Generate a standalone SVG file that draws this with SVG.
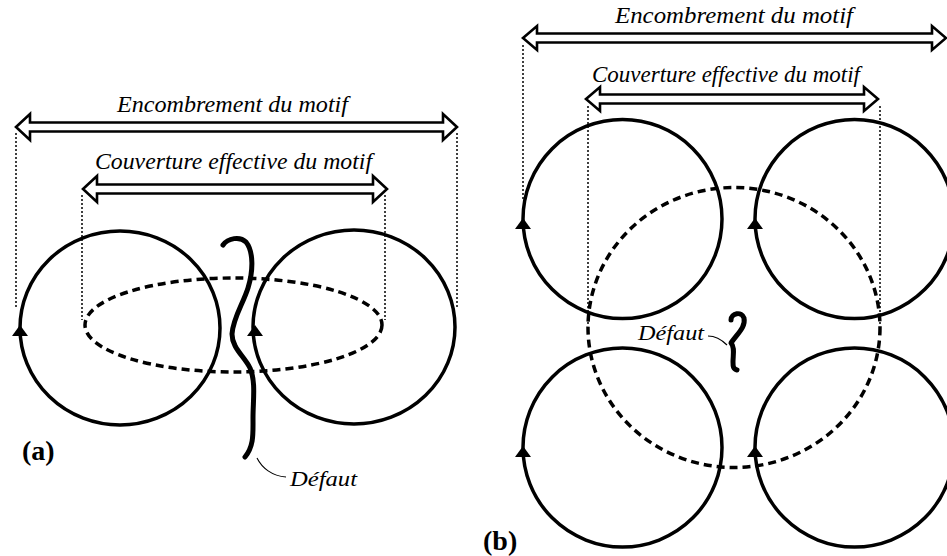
<svg xmlns="http://www.w3.org/2000/svg" width="947" height="556" viewBox="0 0 947 556">
<style>
.ring{fill:none;stroke:#000;stroke-width:3.5}
.dash{fill:none;stroke:#000;stroke-width:3.5;stroke-dasharray:8 5}
.dot{fill:none;stroke:#000;stroke-width:1.5;stroke-dasharray:2 2}
.arr{fill:#fff;stroke:#000;stroke-width:2.6;stroke-linejoin:miter}
.def{fill:none;stroke:#000;stroke-width:5;stroke-linecap:round;stroke-linejoin:round}
.lead{fill:none;stroke:#000;stroke-width:1.1}
.lbl{font-family:"Liberation Serif","DejaVu Serif",serif;font-style:italic;fill:#000}
.tag{font-family:"Liberation Serif","DejaVu Serif",serif;font-weight:bold;fill:#000;font-size:28px}
</style>
<defs>
<path id="tri" d="M-8,4 L0,-7 L8,4 Z" fill="#000"/>
</defs>
<rect width="947" height="556" fill="#fff"/>

<g id="panel-a">
  <g id="a-circle-left">
    <ellipse class="ring" cx="120" cy="328" rx="100" ry="97"/>
    <use href="#tri" x="20" y="332"/>
  </g>
  <g id="a-circle-right">
    <ellipse class="ring" cx="354" cy="327" rx="101" ry="97"/>
    <use href="#tri" x="255" y="332"/>
  </g>
  <g id="a-coverage">
    <ellipse class="dash" cx="233.5" cy="325" rx="148.5" ry="47"/>
  </g>
  <g id="a-defect">
    <path class="def" d="M223,245 C228,238 240,236 246,242 C254,252 253,272 248,288 C243,304 233,318 232,334 C232,348 244,356 250,368 C256,382 253,400 253,418 C253,434 254,446 245,457"/>
  </g>
  <g id="a-connectors">
    <line class="dot" x1="16" y1="133" x2="16" y2="308"/>
    <line class="dot" x1="457" y1="133" x2="457" y2="308"/>
    <line class="dot" x1="82" y1="195" x2="82" y2="320"/>
    <line class="dot" x1="385" y1="195" x2="385" y2="320"/>
    <path class="arr" d="M16,127 L30,114 L30,122.5 L443,122.5 L443,114 L457,127 L443,140 L443,131.5 L30,131.5 L30,140 Z"/>
    <path class="arr" d="M83,189 L97,176 L97,184.5 L373,184.5 L373,176 L387,189 L373,202 L373,193.5 L97,193.5 L97,202 Z"/>
    <path class="lead" d="M257,458 C262,468 272,476 286,477"/>
  </g>
  <text class="lbl" x="117" y="112" font-size="24" textLength="231" lengthAdjust="spacingAndGlyphs">Encombrement du motif</text>
  <text class="lbl" x="95" y="169" font-size="24" textLength="277" lengthAdjust="spacingAndGlyphs">Couverture effective du motif</text>
  <text class="lbl" x="290" y="486" font-size="21" textLength="67" lengthAdjust="spacingAndGlyphs">Défaut</text>
  <text class="tag" x="22" y="460">(a)</text>
</g>

<g id="panel-b">
  <g id="b-circle-tl">
    <circle class="ring" cx="622.5" cy="219" r="99.5"/>
    <use href="#tri" x="523" y="225"/>
  </g>
  <g id="b-circle-tr">
    <circle class="ring" cx="854.5" cy="219" r="99.5"/>
    <use href="#tri" x="755" y="225"/>
  </g>
  <g id="b-circle-bl">
    <circle class="ring" cx="622.5" cy="447.5" r="99.5"/>
    <use href="#tri" x="523" y="453"/>
  </g>
  <g id="b-circle-br">
    <circle class="ring" cx="854.5" cy="447.5" r="99.5"/>
    <use href="#tri" x="755" y="453"/>
  </g>
  <g id="b-coverage">
    <ellipse class="dash" cx="734" cy="327.5" rx="146" ry="140"/>
  </g>
  <g id="b-defect">
    <path class="def" d="M731,320 C731,313 742,311 744,318 C746,327 737,334 731,343 C735,347 733,355 733,362 C733,366 733,369 737,370"/>
  </g>
  <g id="b-connectors">
    <line class="dot" x1="523" y1="45" x2="523" y2="200"/>
    <line class="dot" x1="588" y1="106" x2="588" y2="325"/>
    <line class="dot" x1="880" y1="106" x2="880" y2="325"/>
    <path class="arr" d="M523,38 L537,26 L537,33.5 L932,33.5 L932,26 L946,38 L932,50 L932,42.5 L537,42.5 L537,50 Z"/>
    <path class="arr" d="M586,99 L600,87 L600,94.5 L864,94.5 L864,87 L878,99 L864,111 L864,103.5 L600,103.5 L600,111 Z"/>
    <path class="lead" d="M727,345 C721,339 715,336 708,336"/>
  </g>
  <text class="lbl" x="615" y="23" font-size="24" textLength="238" lengthAdjust="spacingAndGlyphs">Encombrement du motif</text>
  <text class="lbl" x="592" y="82" font-size="24" textLength="268" lengthAdjust="spacingAndGlyphs">Couverture effective du motif</text>
  <text class="lbl" x="638" y="340" font-size="21" textLength="66" lengthAdjust="spacingAndGlyphs">Défaut</text>
  <text class="tag" x="483" y="550">(b)</text>
</g>
</svg>
